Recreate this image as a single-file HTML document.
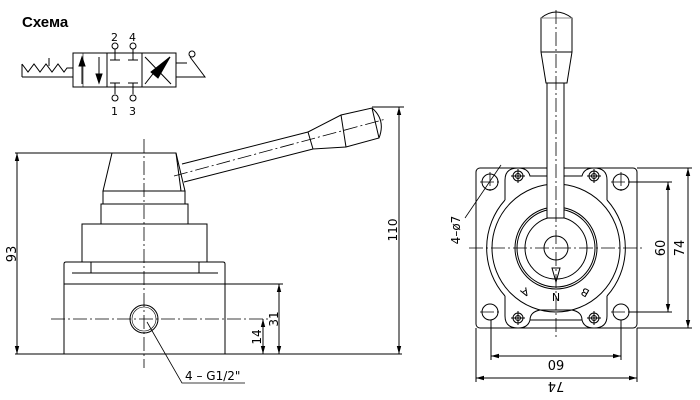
<!DOCTYPE html>
<html><head><meta charset="utf-8"><style>
html,body{margin:0;padding:0;background:#fff;}
svg{display:block}
text{font-family:"DejaVu Sans","Liberation Sans",sans-serif;fill:#000}
text.t{font-family:"Liberation Sans",sans-serif;font-weight:bold}
</style></head><body>
<svg width="700" height="400" viewBox="0 0 700 400" xmlns="http://www.w3.org/2000/svg">
<defs>
<marker id="a" markerWidth="8" markerHeight="6" refX="8" refY="3" orient="auto-start-reverse" markerUnits="userSpaceOnUse"><path d="M0,0.8 L8,3 L0,5.2 Z" fill="#000"/></marker>
</defs>
<g fill="none" stroke="#000" stroke-width="1">
<!-- schema -->
<rect x="73" y="53" width="103" height="34"/>
<line x1="107" y1="53" x2="107" y2="87"/>
<line x1="142" y1="53" x2="142" y2="87"/>
<line x1="83" y1="53" x2="83" y2="87" stroke-width="0.6"/>
<path d="M22,77 L73,77 M22,64 L22,77"/>
<path d="M22,64 L28,72 L34,64 L40,72 L46,64 L52,72 L58,64 L64,72 L67,68 L73,68"/>
<line x1="49" y1="58" x2="49" y2="66"/>
<line x1="82" y1="84" x2="82" y2="62"/><path d="M79,66 L82,57 L85,66 Z" fill="#000"/>
<line x1="99" y1="57" x2="99" y2="78"/><path d="M96,74 L99,83 L102,74 Z" fill="#000"/>
<line x1="115" y1="49" x2="115" y2="60"/><line x1="110" y1="60" x2="120" y2="60"/>
<line x1="133" y1="49" x2="133" y2="60"/><line x1="128" y1="60" x2="138" y2="60"/>
<line x1="115" y1="83" x2="115" y2="94"/><line x1="110" y1="83" x2="120" y2="83"/>
<line x1="133" y1="83" x2="133" y2="94"/><line x1="128" y1="83" x2="138" y2="83"/>
<circle cx="115" cy="46" r="3"/><circle cx="133" cy="46" r="3"/>
<circle cx="115" cy="98" r="3"/><circle cx="133" cy="98" r="3"/>
<path d="M145,57 L171,84 M145,84 L156,70 L170,57"/>
<path d="M151,72 L170,57 L158,78 Z" fill="#000"/>
<path d="M176,63 L187,63 M176,77 L205,77 L190,57"/>
<circle cx="192" cy="54" r="3"/>

<!-- left view -->
<path d="M112,153 L176,153 L185,191 L103,191 Z"/>
<rect x="103" y="191" width="82" height="13"/>
<rect x="101" y="204" width="87" height="20"/>
<rect x="82" y="224" width="125" height="38"/>
<path d="M64,284 L64,264 Q64,262 66,262 L91,262 L91,273 M199,273 L199,262 L223,262 Q225,262 225,264 L225,284"/>
<line x1="72" y1="273" x2="218" y2="273"/>
<rect x="64" y="284" width="161" height="70"/>
<circle cx="144" cy="319" r="14"/>
<circle cx="144" cy="319" r="12" stroke-width="0.6"/>
<g stroke-dasharray="14,3,2,3" stroke-width="0.8">
<line x1="144" y1="139" x2="144" y2="368"/>
<line x1="51" y1="319" x2="270" y2="319"/>
<line x1="174" y1="176" x2="386" y2="119"/>
</g>
<!-- handle -->
<path d="M182,164 L308,132 M184,182 L313,149"/>
<path d="M308,132 L341,115 L372,108 Q386,120 379,138 L346,147 L313,149 Z"/>
<line x1="341" y1="115" x2="346" y2="147"/>
<line x1="372" y1="108" x2="379" y2="138"/>
<line x1="176" y1="153" x2="181" y2="191"/>
<!-- dims left -->
<line x1="15" y1="153" x2="112" y2="153"/>
<line x1="15" y1="354" x2="402" y2="354"/>
<line x1="17" y1="153" x2="17" y2="354" marker-start="url(#a)" marker-end="url(#a)"/>
<line x1="225" y1="284" x2="283" y2="284"/>
<line x1="279" y1="284" x2="279" y2="354" marker-start="url(#a)" marker-end="url(#a)"/>
<line x1="263" y1="319" x2="263" y2="354" marker-start="url(#a)" marker-end="url(#a)"/>
<line x1="372" y1="107" x2="404" y2="107"/>
<line x1="399" y1="107" x2="399" y2="354" marker-start="url(#a)" marker-end="url(#a)"/>
<path d="M147,322 L182,383 L245,383" stroke-width="0.8"/>

<!-- right view -->
<rect x="476" y="168" width="161" height="160" rx="4"/>
<path d="M505,200 L505,180 Q505,168 518,168 Q528,168 530,176 L582,176 Q584,168 594,168 Q607,168 607,180 L607,200"/>
<path d="M505,296 L505,316 Q505,328 518,328 Q528,328 530,320 L582,320 Q584,328 594,328 Q607,328 607,316 L607,296"/>
<path d="M505,200 A72,72 0 0,0 505,296 M607,200 A72,72 0 0,1 607,296"/>
<path d="M530,320 Q530,312 540,310 L572,310 Q582,312 582,320"/>
<circle cx="556" cy="248" r="64"/>
<circle cx="556" cy="248" r="41"/>
<circle cx="556" cy="248" r="39"/>
<circle cx="556" cy="248" r="31"/>
<circle cx="556" cy="248" r="12"/>
<circle cx="490" cy="182" r="8"/><circle cx="621" cy="182" r="8"/>
<circle cx="490" cy="312" r="8"/><circle cx="621" cy="312" r="8"/>
<g>
<circle cx="518" cy="176" r="5"/><circle cx="594" cy="176" r="5"/>
<circle cx="518" cy="318" r="5"/><circle cx="594" cy="318" r="5"/>
<circle cx="518" cy="176" r="2.5"/><circle cx="594" cy="176" r="2.5"/>
<circle cx="518" cy="318" r="2.5"/><circle cx="594" cy="318" r="2.5"/>
<path d="M511,176h14M518,169v14M587,176h14M594,169v14M511,318h14M518,311v14M587,318h14M594,311v14"/>
</g>
<!-- lever top -->
<rect x="547" y="83" width="17" height="135" fill="#fff" stroke="none"/>
<path d="M547,218 L547,83 M564,218 L564,83 M547,218 L564,218"/>
<path d="M546,83 L541,52 L541,18 Q556,6 572,18 L572,52 L567,83 Z" fill="#fff"/>
<line x1="541" y1="52" x2="572" y2="52"/>
<line x1="541" y1="18" x2="572" y2="18" stroke="#888"/>
<path d="M552,268 L560,268 L556,282 Z"/>
<g stroke-dasharray="14,3,2,3" stroke-width="0.8">
<line x1="556" y1="10" x2="556" y2="340"/>
<line x1="469" y1="248" x2="645" y2="248"/>
<line x1="490" y1="172" x2="490" y2="192"/><line x1="480" y1="182" x2="500" y2="182"/>
<line x1="621" y1="172" x2="621" y2="192"/><line x1="611" y1="182" x2="631" y2="182"/>
<line x1="480" y1="312" x2="500" y2="312"/><line x1="611" y1="312" x2="631" y2="312"/>
</g>
<!-- dims right -->
<line x1="629" y1="182" x2="672" y2="182"/>
<line x1="629" y1="312" x2="672" y2="312"/>
<line x1="668" y1="182" x2="668" y2="312" marker-start="url(#a)" marker-end="url(#a)"/>
<line x1="637" y1="168" x2="692" y2="168"/>
<line x1="637" y1="328" x2="692" y2="328"/>
<line x1="688" y1="168" x2="688" y2="328" marker-start="url(#a)" marker-end="url(#a)"/>
<line x1="491" y1="320" x2="491" y2="360"/>
<line x1="621" y1="320" x2="621" y2="360"/>
<line x1="491" y1="356" x2="621" y2="356" marker-start="url(#a)" marker-end="url(#a)"/>
<line x1="476" y1="328" x2="476" y2="382"/>
<line x1="637" y1="328" x2="637" y2="382"/>
<line x1="476" y1="378" x2="637" y2="378" marker-start="url(#a)" marker-end="url(#a)"/>
<line x1="501" y1="165" x2="465" y2="218" stroke-width="0.8"/>
</g>
<!-- texts -->
<text class="t" x="22" y="27" font-size="15">Схема</text>
<g font-size="11">
<text x="111" y="41">2</text><text x="129" y="41">4</text>
<text x="111" y="115">1</text><text x="129" y="115">3</text>
<text transform="translate(16,254) rotate(-90)" text-anchor="middle" font-size="13">93</text>
<text transform="translate(278,319) rotate(-90)" text-anchor="middle" font-size="12">31</text>
<text transform="translate(261,337) rotate(-90)" text-anchor="middle" font-size="12">14</text>
<text transform="translate(397,230) rotate(-90)" text-anchor="middle" font-size="12">110</text>
<text x="185" y="380" font-size="12">4 – G1/2"</text>
<text transform="translate(460,230) rotate(-90)" text-anchor="middle" font-size="12">4–ø7</text>
<text transform="translate(665,248) rotate(-90)" text-anchor="middle" font-size="13">60</text>
<text transform="translate(684,248) rotate(-90)" text-anchor="middle" font-size="13">74</text>
<text transform="translate(556,360) rotate(180)" text-anchor="middle" font-size="13">60</text>
<text transform="translate(556,382) rotate(180)" text-anchor="middle" font-size="13">74</text>
<text transform="translate(523,289) rotate(150)" text-anchor="middle" font-size="11">A</text>
<text transform="translate(587,289) rotate(-150)" text-anchor="middle" font-size="11">B</text>
<text transform="translate(556,293) rotate(180)" text-anchor="middle" font-size="11">N</text>
</g>
</svg>
</body></html>
